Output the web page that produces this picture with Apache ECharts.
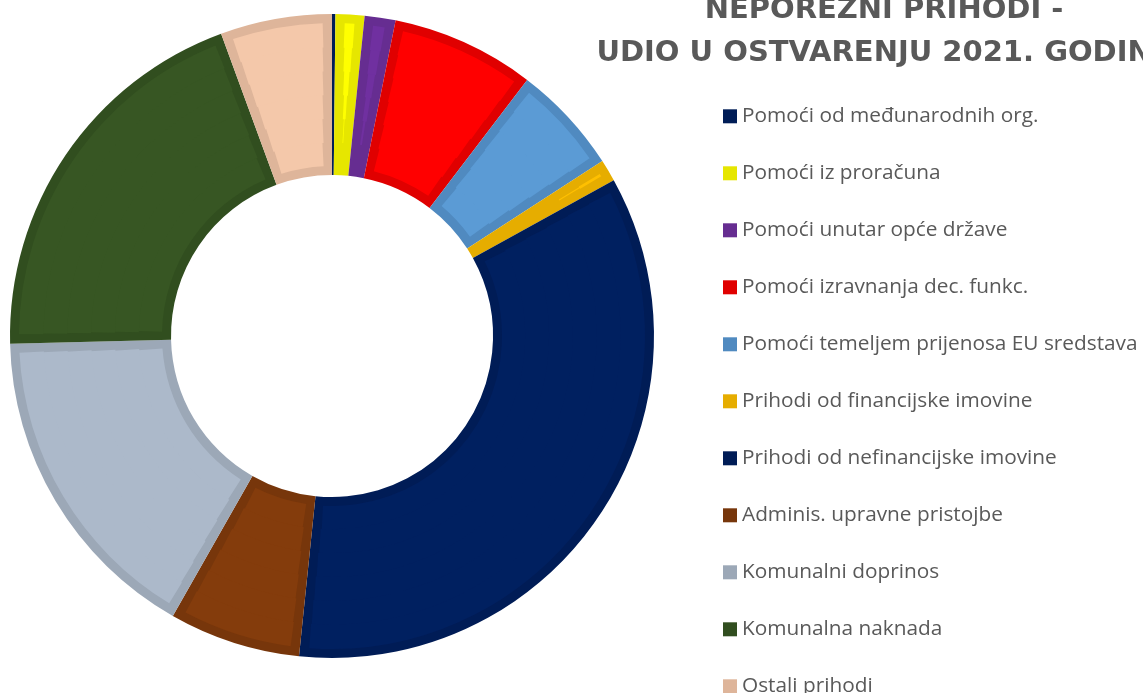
<!DOCTYPE html>
<html>
<head>
<meta charset="utf-8">
<title>Neporezni prihodi 2021</title>
<script src="https://cdn.jsdelivr.net/npm/echarts@6.0.0/dist/echarts.min.js"></script>
<style>
  html, body { margin: 0; padding: 0; background: #fff; }
  #chart { width: 1143px; height: 693px; }
</style>
</head>
<body>
<div id="chart"></div>
<script>
// udjeli (%) procitani sa slike, redom u smjeru kazaljke od vrha
const categories = [
  'Pomoći od međunarodnih org.',
  'Pomoći iz proračuna',
  'Pomoći unutar opće države',
  'Pomoći izravnanja dec. funkc.',
  'Pomoći temeljem prijenosa EU sredstava',
  'Prihodi od financijske imovine',
  'Prihodi od nefinancijske imovine',
  'Adminis. upravne pristojbe',
  'Komunalni doprinos',
  'Komunalna naknada',
  'Ostali prihodi'
]
const shares = [0.17, 1.45, 1.55, 7.2, 5.5, 1.1, 34.7, 6.6, 16.4, 19.8, 5.6]

const fillColors = ['#002060', '#FFFF00', '#7030A0', '#FF0000', '#5B9BD5', '#FFC000',
  '#002060', '#843C0C', '#ACB9CA', '#375623', '#F4C8AA']
const edgeColors = ['#001D57', '#E6E600', '#662D91', '#E00000', '#508AC0', '#E6AD00',
  '#001C56', '#77360B', '#9CA8B7', '#314E1F', '#DEB59A']

const titleText = 'NEPOREZNI PRIHODI -\nUDIO U OSTVARENJU 2021. GODINE'

const chart = echarts.init(document.getElementById('chart'), null, { renderer: 'canvas' })

const cx = 332, cy = 336
const rOuter = 322, rInner = 161
const edge = 9   // debljina ruba svakog isjecka (px)
const total = shares.reduce((a, b) => a + b, 0)

// isjecak plohe je uzi od ruba za 'edge' px s obje strane:
// prazni (prozirni) dijelovi oko svake plohe, da svi isjecci ostanu na svom kutu
function fillData(r) {
  const g = (2 * edge / r) / (2 * Math.PI) * total
  const out = []
  shares.forEach((v, i) => {
    const f = Math.max(v - g, 0)
    const pad = (v - f) / 2
    out.push({ name: '_', value: pad, itemStyle: { color: 'rgba(0,0,0,0)' } })
    if (f > 0) out.push({ name: categories[i], value: f, itemStyle: { color: fillColors[i] } })
    out.push({ name: '_', value: pad, itemStyle: { color: 'rgba(0,0,0,0)' } })
  })
  return out
}

const base = {
  type: 'pie',
  silent: true,
  center: [cx, cy],
  startAngle: 90,
  clockwise: true,
  label: { show: false },
  labelLine: { show: false },
  emphasis: { disabled: true },
  itemStyle: { borderWidth: 0 }
}

const series = [Object.assign({}, base, {
  name: 'rub',
  radius: [rInner, rOuter],
  data: categories.map((name, i) => ({ name, value: shares[i], itemStyle: { color: edgeColors[i] } }))
})]

const bands = 6
const fillIn = rInner + edge, fillOut = rOuter - edge
for (let b = 0; b < bands; b++) {
  const r0 = fillIn + (fillOut - fillIn) * b / bands
  const r1 = fillIn + (fillOut - fillIn) * (b + 1) / bands
  series.push(Object.assign({}, base, {
    name: 'ploha' + b,
    radius: [b === 0 ? r0 : r0 - 0.6, b === bands - 1 ? r1 : r1 + 0.6],
    data: fillData((r0 + r1) / 2)
  }))
}

chart.setOption({
  backgroundColor: '#fff',
  animation: false,
  title: {
    text: titleText,
    left: 884,
    top: -11,
    padding: 0,
    textAlign: 'center',
    textStyle: {
      fontFamily: 'DejaVu Sans',
      fontWeight: 'bold',
      fontSize: 29,
      lineHeight: 43,
      color: '#595959'
    }
  },
  legend: {
    data: categories,
    orient: 'vertical',
    left: 723,
    top: 105.8,
    height: 800,
    padding: 0,
    icon: 'rect',
    itemWidth: 14,
    itemHeight: 14,
    itemGap: 36,
    selectedMode: false,
    textStyle: {
      fontFamily: 'Open Sans',
      fontSize: 20.8,
      lineHeight: 20,
      color: '#595959'
    }
  },
  series
})
</script>
</body>
</html>
